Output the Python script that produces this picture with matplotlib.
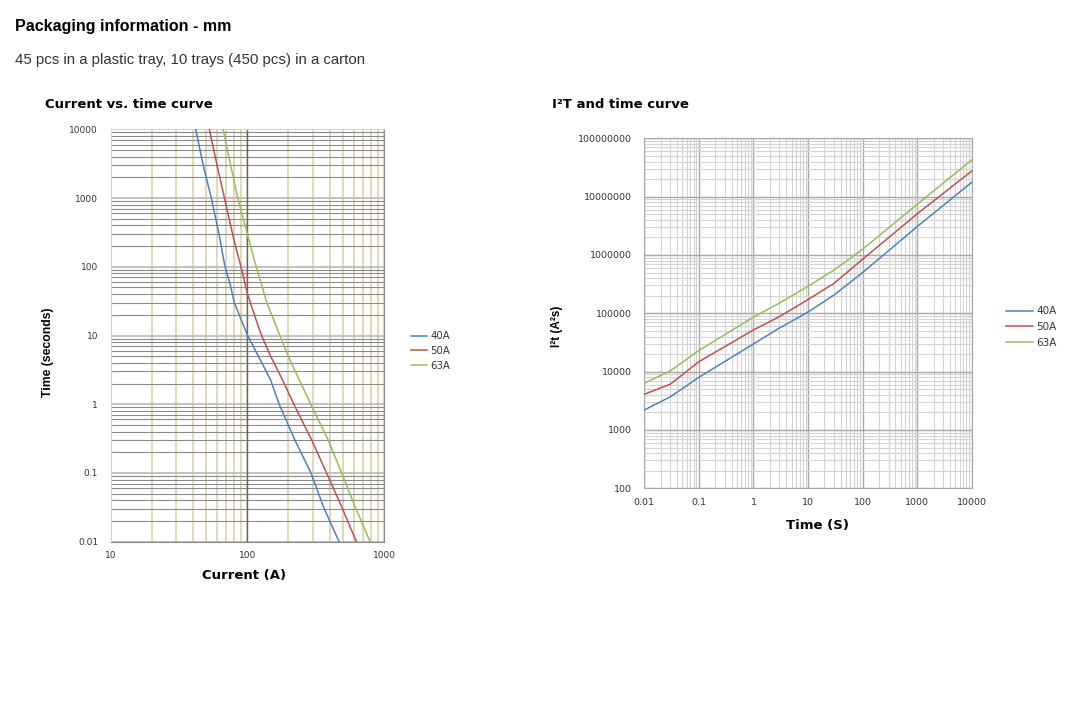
import matplotlib
matplotlib.use("Agg")
import matplotlib.pyplot as plt
from matplotlib.ticker import FixedLocator, LogLocator, NullFormatter
from matplotlib.lines import Line2D

# ---- data ----
series = ["40A", "50A", "63A"]
colors = ["#4f81bd", "#c0504d", "#9bbb59"]

# current vs time (current in A, time in s)
cur_40 = [41.9, 47.5, 54.5, 62, 68.6, 74.6, 80.3, 88.3, 100, 121, 148, 171, 223, 292, 360, 469]
t_40 = [10000, 3000, 1000, 300, 100, 57.4, 30, 18.8, 10.2, 4.91, 2.25, 1, 0.3, 0.1, 0.0323, 0.01]
cur_50 = [52.7, 60, 68, 79.8, 89.8, 100, 113.7, 127, 148, 181, 219, 296, 380, 490, 628]
t_50 = [10000, 3000, 1000, 245, 100, 41.1, 18.8, 10, 5, 2.25, 1, 0.3, 0.1, 0.0323, 0.01]
cur_63 = [66.4, 75.5, 85, 100, 116, 139, 173, 200, 240, 291, 391, 490, 614, 791]
t_63 = [10000, 3000, 1000, 300, 100, 30, 10, 4.91, 2.25, 1, 0.3, 0.1, 0.0323, 0.01]

# I2t vs time
i2t_time = [0.01, 0.03, 0.1, 1, 3, 10, 30, 100, 1000, 10000]
i2t_40 = [2200, 3700, 8000, 29800, 56000, 105000, 206000, 498000, 3060000, 17600000]
i2t_50 = [4090, 6100, 14800, 51800, 87700, 172000, 327000, 843000, 5050000, 27500000]
i2t_63 = [6350, 10300, 23000, 86000, 150000, 290000, 553000, 1250000, 7390000, 42500000]

left_xticks = [10, 100, 1000]
left_xlabels = ["10", "100", "1000"]
left_yticks = [0.01, 0.1, 1, 10, 100, 1000, 10000]
left_ylabels = ["0.01", "0.1", "1", "10", "100", "1000", "10000"]
right_xticks = [0.01, 0.1, 1, 10, 100, 1000, 10000]
right_xlabels = ["0.01", "0.1", "1", "10", "100", "1000", "10000"]
right_yticks = [100, 1000, 10000, 100000, 1000000, 10000000, 100000000]
right_ylabels = ["100", "1000", "10000", "100000", "1000000", "10000000", "100000000"]

fig = plt.figure(figsize=(10.86, 7.05), dpi=100)

head_font = ["Liberation Sans", "DejaVu Sans"]
narrow_font = ["Liberation Sans Narrow", "Liberation Sans", "DejaVu Sans"]
fig.text(15 / 1086, 1 - 27 / 705, "Packaging information - mm", family=head_font,
         fontweight="bold", fontsize=11.5, va="center", ha="left")
fig.text(15 / 1086, 1 - 60 / 705, "45 pcs in a plastic tray, 10 trays (450 pcs) in a carton",
         family=head_font, fontsize=10.8, va="center", ha="left", color="#333333")

# ---- left: current vs time ----
ax1 = fig.add_axes([110.7 / 1086, 1 - 541.7 / 705, 273.3 / 1086, 412.4 / 705])
ax1.set_xscale("log")
ax1.set_yscale("log")
ax1.set_xlim(10, 1000)
ax1.set_ylim(0.01, 10000)

ax1.xaxis.set_major_locator(FixedLocator(left_xticks))
ax1.set_xticklabels(left_xlabels)
ax1.xaxis.set_minor_locator(LogLocator(base=10, subs=range(2, 10)))
ax1.xaxis.set_minor_formatter(NullFormatter())
ax1.yaxis.set_major_locator(FixedLocator(left_yticks))
ax1.set_yticklabels(left_ylabels)
ax1.yaxis.set_minor_locator(LogLocator(base=10, subs=range(2, 10)))
ax1.yaxis.set_minor_formatter(NullFormatter())

ax1.grid(which="minor", axis="x", color="#ddd6b4", lw=1.3)
ax1.grid(which="major", axis="x", color="#ddd6b4", lw=1.3)
ax1.grid(which="minor", axis="y", color="#8a8a8a", lw=0.8)
ax1.grid(which="major", axis="y", color="#bdbdbd", lw=1.3)
ax1.axvline(100, color="#666666", lw=1.0, zorder=1.5)
ax1.set_axisbelow(True)
for s in ax1.spines.values():
    s.set_color("#ddd6b4")
ax1.spines["bottom"].set_color("#8a8a8a")
ax1.spines["right"].set_color("#8a8a8a")
ax1.tick_params(which="both", length=0, labelsize=6.5, colors="#333333", pad=9)
ax1.tick_params(axis="x", pad=7)

for c, t, col in zip([cur_40, cur_50, cur_63], [t_40, t_50, t_63], colors):
    ax1.plot(c, t, color=col, lw=1.1, zorder=3)

fig.text(45 / 1086, 1 - 104 / 705, "Current vs. time curve", fontweight="bold",
         fontsize=9.5, va="center", ha="left")
fig.text(244 / 1086, 1 - 575 / 705, "Current (A)", fontweight="bold", fontsize=9.5,
         va="center", ha="center")
fig.text(48 / 1086, 1 - 352 / 705, "Time (seconds)", family=narrow_font,
         fontweight="bold", fontsize=8.8, va="center", ha="center", rotation=90)

h1 = [Line2D([], [], color=col, lw=1.1) for col in colors]
fig.legend(h1, series, loc="center left", bbox_to_anchor=(411 / 1086, 1 - 351 / 705),
           frameon=False, fontsize=7.3, handlelength=1.6, handletextpad=0.3,
           labelspacing=0.45, borderpad=0, borderaxespad=0, labelcolor="#333333")

# ---- right: I2t vs time ----
ax2 = fig.add_axes([644.3 / 1086, 1 - 488.3 / 705, 327.4 / 1086, 350 / 705])
ax2.set_xscale("log")
ax2.set_yscale("log")
ax2.set_xlim(0.01, 10000)
ax2.set_ylim(100, 100000000)

ax2.xaxis.set_major_locator(FixedLocator(right_xticks))
ax2.set_xticklabels(right_xlabels)
ax2.xaxis.set_minor_locator(LogLocator(base=10, subs=range(2, 10)))
ax2.xaxis.set_minor_formatter(NullFormatter())
ax2.yaxis.set_major_locator(FixedLocator(right_yticks))
ax2.set_yticklabels(right_ylabels)
ax2.yaxis.set_minor_locator(LogLocator(base=10, subs=range(2, 10)))
ax2.yaxis.set_minor_formatter(NullFormatter())

ax2.grid(which="minor", color="#d4d4d4", lw=0.8)
ax2.grid(which="major", color="#a8a8a8", lw=1.0)
ax2.set_axisbelow(True)
for s in ax2.spines.values():
    s.set_color("#a8a8a8")
ax2.tick_params(which="both", length=0, labelsize=6.8, colors="#333333", pad=9)
ax2.tick_params(axis="x", pad=7)

for v, col in zip([i2t_40, i2t_50, i2t_63], colors):
    ax2.plot(i2t_time, v, color=col, lw=1.1, zorder=3)

fig.text(552 / 1086, 1 - 104 / 705, "I²T and time curve", fontweight="bold",
         fontsize=9.5, va="center", ha="left")
fig.text(818 / 1086, 1 - 525 / 705, "Time (S)", fontweight="bold", fontsize=9.5,
         va="center", ha="center")
fig.text(557 / 1086, 1 - 326 / 705, "I²t (A²s)", family=narrow_font, fontweight="bold",
         fontsize=8.5, va="center", ha="center", rotation=90)

h2 = [Line2D([], [], color=col, lw=1.1) for col in colors]
fig.legend(h2, series, loc="center left", bbox_to_anchor=(1006 / 1086, 1 - 327 / 705),
           frameon=False, fontsize=7.5, handlelength=2.6, handletextpad=0.3,
           labelspacing=0.55, borderpad=0, borderaxespad=0, labelcolor="#333333")

fig.savefig("out.png", dpi=100)
